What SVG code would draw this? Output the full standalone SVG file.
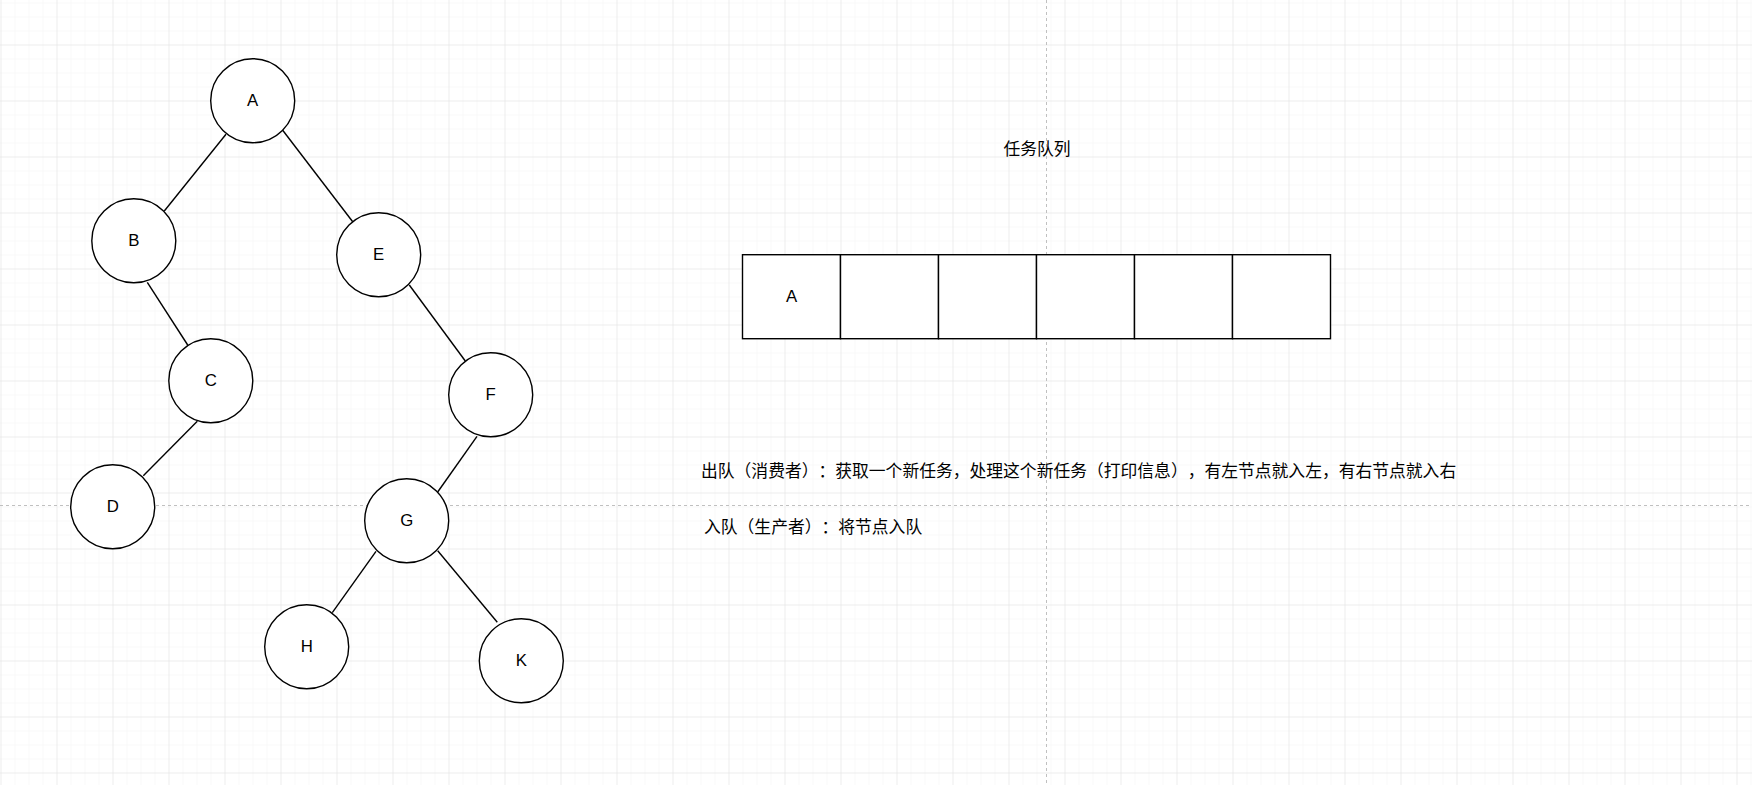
<svg xmlns="http://www.w3.org/2000/svg" width="1752" height="785" viewBox="0 0 1752 785">
<defs>
<pattern id="minor" x="0.5" y="44.5" width="14" height="14" patternUnits="userSpaceOnUse">
<path d="M14 0H0V14" fill="none" stroke="#f3f3f3" stroke-width="1"/>
</pattern>
<pattern id="major" x="0.5" y="44.5" width="56" height="56" patternUnits="userSpaceOnUse">
<path d="M56 0H0V56" fill="none" stroke="#e3e3e3" stroke-width="1"/>
</pattern>
<style>
.n{fill:#fff;stroke:#000;stroke-width:1.4}
.c{fill:#fff;stroke:#000;stroke-width:1.4}
.e{stroke:#000;stroke-width:1.4;fill:none}
.t{font-family:"Liberation Sans","Noto Sans CJK SC",sans-serif;font-size:16.8px;fill:#000;dominant-baseline:central;text-spacing-trim:space-all;font-kerning:none}
.m{text-anchor:middle}
.pb{stroke:#c0c0c0;stroke-width:1;stroke-dasharray:3 3;fill:none}
</style>
</defs>
<rect width="1752" height="785" fill="#fff"/>
<rect width="1752" height="785" fill="url(#minor)"/>
<rect width="1752" height="785" fill="url(#major)"/>
<g id="pagebreaks">
<path class="pb" d="M1046.5 0V785"/>
<path class="pb" d="M0 505.5H1752"/>
</g>
<g id="connectors">
<path class="e" d="M226 134.3L164.3 211"/>
<path class="e" d="M282.7 130.3L352.7 221.7"/>
<path class="e" d="M147.3 282.3L187.7 345"/>
<path class="e" d="M409.3 285L465.3 361"/>
<path class="e" d="M197.3 421.3L143.3 475.7"/>
<path class="e" d="M477 436.3L437.7 492"/>
<path class="e" d="M376 551.3L332.3 612.7"/>
<path class="e" d="M437.7 550.7L497.3 622.3"/>
</g>
<g id="node-A"><circle class="n" cx="252.7" cy="100.7" r="42"/><text class="t m" x="252.7" y="100.7">A</text></g>
<g id="node-B"><circle class="n" cx="133.8" cy="240.7" r="42"/><text class="t m" x="133.8" y="240.7">B</text></g>
<g id="node-E"><circle class="n" cx="378.7" cy="254.7" r="42"/><text class="t m" x="378.7" y="254.7">E</text></g>
<g id="node-C"><circle class="n" cx="210.8" cy="380.8" r="42"/><text class="t m" x="210.8" y="380.8">C</text></g>
<g id="node-F"><circle class="n" cx="490.7" cy="394.7" r="42"/><text class="t m" x="490.7" y="394.7">F</text></g>
<g id="node-D"><circle class="n" cx="112.7" cy="506.7" r="42"/><text class="t m" x="112.7" y="506.7">D</text></g>
<g id="node-G"><circle class="n" cx="406.7" cy="520.7" r="42"/><text class="t m" x="406.7" y="520.7">G</text></g>
<g id="node-H"><circle class="n" cx="306.7" cy="646.7" r="42"/><text class="t m" x="306.7" y="646.7">H</text></g>
<g id="node-K"><circle class="n" cx="521.3" cy="660.7" r="42"/><text class="t m" x="521.3" y="660.7">K</text></g>
<g id="queue-title"><text class="t m" x="1037" y="149">任务队列</text></g>
<g id="queue">
<rect class="c" x="742.5" y="254.7" width="98" height="84"/>
<rect class="c" x="840.5" y="254.7" width="98" height="84"/>
<rect class="c" x="938.5" y="254.7" width="98" height="84"/>
<rect class="c" x="1036.5" y="254.7" width="98" height="84"/>
<rect class="c" x="1134.5" y="254.7" width="98" height="84"/>
<rect class="c" x="1232.5" y="254.7" width="98" height="84"/>
<text class="t m" x="791.5" y="296.7">A</text>
</g>
<g id="text-dequeue"><text class="t" x="701" y="471.7">出队（消费者）：获取一个新任务，处理这个新任务（打印信息），有左节点就入左，有右节点就入右</text></g>
<g id="text-enqueue"><text class="t" x="704" y="527.3">入队（生产者）：将节点入队</text></g>
</svg>
